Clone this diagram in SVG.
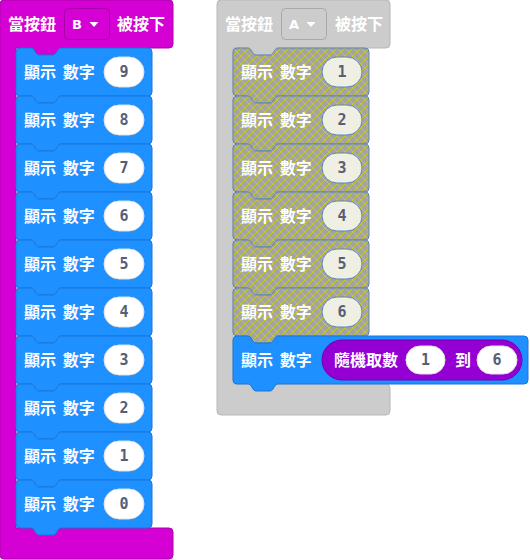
<svg xmlns="http://www.w3.org/2000/svg" width="530" height="560" viewBox="0 0 530 560">
<defs>
<pattern id="hatch" width="8" height="8" patternUnits="userSpaceOnUse">
<rect width="8" height="8" fill="#a3a3a3"/>
<path d="M-1,-1 L9,9 M9,-1 L-1,9" stroke="#cdcd10" stroke-width="0.9"/>
</pattern>
<path id="stmt" d="M0,4 a4,4 0 0 1 4,-4 H15 c4,0 4,7 8,7 H37 c4,0 4,-7 8,-7 H132 a4,4 0 0 1 4,4 V44 a4,4 0 0 1 -4,4 H45 c-4,0 -4,7 -8,7 H23 c-4,0 -4,-7 -8,-7 H4 a4,4 0 0 1 -4,-4 Z"/>
</defs>
<style>
.lbl{font-family:"Noto Sans CJK TC","Noto Sans CJK SC",sans-serif;font-size:16px;font-weight:bold;fill:#fff;word-spacing:3px}
.num{font-family:"DejaVu Sans Mono","Liberation Mono",monospace;font-size:15px;font-weight:bold;fill:#575e75;text-anchor:middle}
.dd{font-family:"DejaVu Sans","Liberation Sans",sans-serif;font-size:13px;font-weight:bold;fill:#fff;text-anchor:middle}
.blue{fill:#1e90ff;stroke:#1877d9;stroke-width:1}
.dis{fill:url(#hatch);stroke:#5a86b5;stroke-width:1}
.pill{fill:#fff;stroke:#e0e0e0;stroke-width:1}
.dpill{fill:#efefe4;stroke:#5a86b5;stroke-width:1}
</style>

<g id="event-b">
<path d="M0,4 a4,4 0 0 1 4,-4 H169 a4,4 0 0 1 4,4 V44 a4,4 0 0 1 -4,4 H61 c-4,0 -4,7 -8,7 H39 c-4,0 -4,-7 -8,-7 H16 V528 H169 a4,4 0 0 1 4,4 V555 a4,4 0 0 1 -4,4 H4 a4,4 0 0 1 -4,-4 Z" fill="#d400d4" stroke="#b000b0" stroke-width="1"/>
<text class="lbl" x="8" y="30">當按鈕</text>
<rect x="64.5" y="8.5" width="45" height="31" rx="4" fill="#d400d4" stroke="#a800a8" stroke-width="1"/>
<text class="dd" x="77" y="29">B</text>
<path d="M89.5,22 H98.5 L94,27 Z" fill="#fff"/>
<text class="lbl" x="117" y="30">被按下</text>
</g>

<g id="left-stack">
<g id="l9" transform="translate(16,48)"><use href="#stmt" class="blue"/><text class="lbl" x="8" y="30">顯示 數字</text><rect class="pill" x="88" y="9" width="40" height="30" rx="15"/><text class="num" x="108" y="29">9</text></g>
<g id="l8" transform="translate(16,96)"><use href="#stmt" class="blue"/><text class="lbl" x="8" y="30">顯示 數字</text><rect class="pill" x="88" y="9" width="40" height="30" rx="15"/><text class="num" x="108" y="29">8</text></g>
<g id="l7" transform="translate(16,144)"><use href="#stmt" class="blue"/><text class="lbl" x="8" y="30">顯示 數字</text><rect class="pill" x="88" y="9" width="40" height="30" rx="15"/><text class="num" x="108" y="29">7</text></g>
<g id="l6" transform="translate(16,192)"><use href="#stmt" class="blue"/><text class="lbl" x="8" y="30">顯示 數字</text><rect class="pill" x="88" y="9" width="40" height="30" rx="15"/><text class="num" x="108" y="29">6</text></g>
<g id="l5" transform="translate(16,240)"><use href="#stmt" class="blue"/><text class="lbl" x="8" y="30">顯示 數字</text><rect class="pill" x="88" y="9" width="40" height="30" rx="15"/><text class="num" x="108" y="29">5</text></g>
<g id="l4" transform="translate(16,288)"><use href="#stmt" class="blue"/><text class="lbl" x="8" y="30">顯示 數字</text><rect class="pill" x="88" y="9" width="40" height="30" rx="15"/><text class="num" x="108" y="29">4</text></g>
<g id="l3" transform="translate(16,336)"><use href="#stmt" class="blue"/><text class="lbl" x="8" y="30">顯示 數字</text><rect class="pill" x="88" y="9" width="40" height="30" rx="15"/><text class="num" x="108" y="29">3</text></g>
<g id="l2" transform="translate(16,384)"><use href="#stmt" class="blue"/><text class="lbl" x="8" y="30">顯示 數字</text><rect class="pill" x="88" y="9" width="40" height="30" rx="15"/><text class="num" x="108" y="29">2</text></g>
<g id="l1" transform="translate(16,432)"><use href="#stmt" class="blue"/><text class="lbl" x="8" y="30">顯示 數字</text><rect class="pill" x="88" y="9" width="40" height="30" rx="15"/><text class="num" x="108" y="29">1</text></g>
<g id="l0" transform="translate(16,480)"><use href="#stmt" class="blue"/><text class="lbl" x="8" y="30">顯示 數字</text><rect class="pill" x="88" y="9" width="40" height="30" rx="15"/><text class="num" x="108" y="29">0</text></g>
</g>

<g id="event-a">
<path d="M217,4 a4,4 0 0 1 4,-4 H386 a4,4 0 0 1 4,4 V44 a4,4 0 0 1 -4,4 H278 c-4,0 -4,7 -8,7 H256 c-4,0 -4,-7 -8,-7 H233 V384 H386 a4,4 0 0 1 4,4 V411 a4,4 0 0 1 -4,4 H221 a4,4 0 0 1 -4,-4 Z" fill="#cccccc" stroke="#b8b8b8" stroke-width="1"/>
<text class="lbl" x="225" y="30">當按鈕</text>
<rect x="281.5" y="8.5" width="45" height="31" rx="4" fill="#cccccc" stroke="#a8a8a8" stroke-width="1"/>
<text class="dd" x="294" y="29">A</text>
<path d="M306.5,22 H315.5 L311,27 Z" fill="#fff"/>
<text class="lbl" x="335" y="30">被按下</text>
</g>

<g id="right-stack">
<g id="r1" transform="translate(233,48)"><use href="#stmt" class="dis"/><text class="lbl" x="8" y="30">顯示 數字</text><rect class="dpill" x="89" y="9" width="40" height="30" rx="15"/><text class="num" x="109" y="29">1</text></g>
<g id="r2" transform="translate(233,96)"><use href="#stmt" class="dis"/><text class="lbl" x="8" y="30">顯示 數字</text><rect class="dpill" x="89" y="9" width="40" height="30" rx="15"/><text class="num" x="109" y="29">2</text></g>
<g id="r3" transform="translate(233,144)"><use href="#stmt" class="dis"/><text class="lbl" x="8" y="30">顯示 數字</text><rect class="dpill" x="89" y="9" width="40" height="30" rx="15"/><text class="num" x="109" y="29">3</text></g>
<g id="r4" transform="translate(233,192)"><use href="#stmt" class="dis"/><text class="lbl" x="8" y="30">顯示 數字</text><rect class="dpill" x="89" y="9" width="40" height="30" rx="15"/><text class="num" x="109" y="29">4</text></g>
<g id="r5" transform="translate(233,240)"><use href="#stmt" class="dis"/><text class="lbl" x="8" y="30">顯示 數字</text><rect class="dpill" x="89" y="9" width="40" height="30" rx="15"/><text class="num" x="109" y="29">5</text></g>
<g id="r6" transform="translate(233,288)"><use href="#stmt" class="dis"/><text class="lbl" x="8" y="30">顯示 數字</text><rect class="dpill" x="89" y="9" width="40" height="30" rx="15"/><text class="num" x="109" y="29">6</text></g>
<g id="r-random" transform="translate(233,336)">
<path class="blue" d="M0,4 a4,4 0 0 1 4,-4 H15 c4,0 4,7 8,7 H37 c4,0 4,-7 8,-7 H291 a4,4 0 0 1 4,4 V44 a4,4 0 0 1 -4,4 H45 c-4,0 -4,7 -8,7 H23 c-4,0 -4,-7 -8,-7 H4 a4,4 0 0 1 -4,-4 Z"/>
<text class="lbl" x="8" y="30">顯示 數字</text>
<rect x="89" y="4" width="200" height="40" rx="20" fill="#9400d3" stroke="#7700aa" stroke-width="1"/>
<text class="lbl" x="101" y="30">隨機取數</text>
<rect class="pill" x="173" y="10" width="39" height="28" rx="14"/>
<text class="num" x="192.5" y="29">1</text>
<text class="lbl" x="222" y="30">到</text>
<rect class="pill" x="244" y="10" width="40" height="28" rx="14"/>
<text class="num" x="264" y="29">6</text>
</g>
</g>
</svg>
